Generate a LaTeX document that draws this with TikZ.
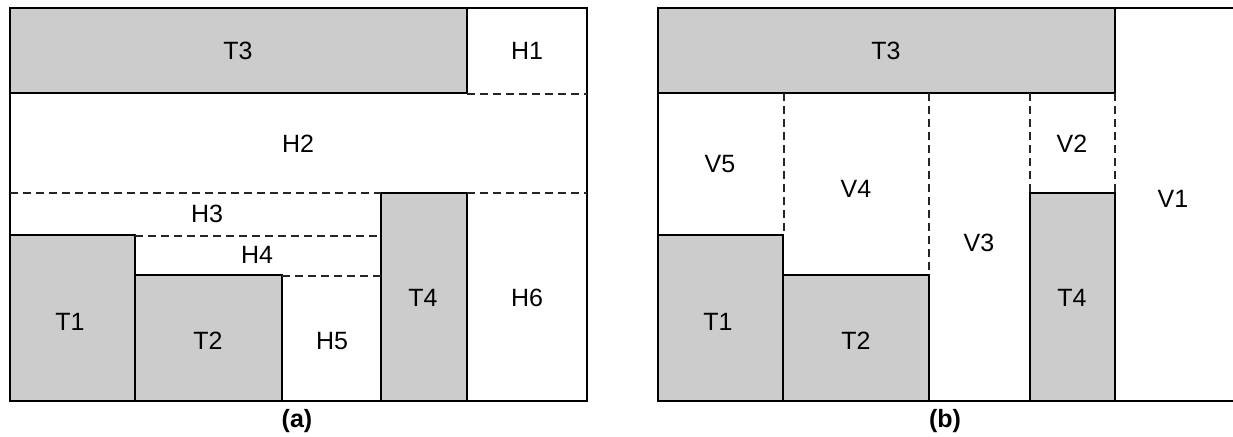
\documentclass[tikz,border=0pt]{standalone}
\usepackage{fontspec}
\setmainfont{Liberation Sans}
\definecolor{boxgray}{HTML}{CCCCCC}
\begin{document}
\begin{tikzpicture}[x=1pt,y=-1pt,
  tbox/.style={draw=black,fill=boxgray,line width=2.2pt},
  frame/.style={draw=black,line width=2.2pt},
  cutline/.style={draw=black!85,line width=2.2pt,dash pattern=on 8pt off 5pt},
  lbl/.style={font=\fontsize{25}{28}\selectfont,inner sep=0pt},
  captext/.style={font=\fontsize{25}{28}\selectfont\bfseries,inner sep=0pt}]
\useasboundingbox (0,0) rectangle (1233,436);
% ---------- panel (a) ----------
\draw[frame] (10,8) rectangle (587,401);
\draw[tbox] (10,8) rectangle (467,93);
\draw[tbox] (10,235) rectangle (135,401);
\draw[tbox] (135,275) rectangle (282,401);
\draw[tbox] (381,193) rectangle (467,401);
\draw[cutline] (467,94) -- (587,94);
\draw[cutline] (10,193) -- (381,193);
\draw[cutline] (467,193) -- (587,193);
\draw[cutline] (135,236) -- (381,236);
\draw[cutline] (282,276) -- (381,276);
\node[lbl] (aT3) at (238,51) {T3};
\node[lbl] (aH1) at (527,51) {H1};
\node[lbl] (aH2) at (298,144) {H2};
\node[lbl] (aH3) at (207,214) {H3};
\node[lbl] (aH4) at (257,255) {H4};
\node[lbl] (aT1) at (70,322) {T1};
\node[lbl] (aT2) at (208,341) {T2};
\node[lbl] (aH5) at (332,341) {H5};
\node[lbl] (aT4) at (423,298) {T4};
\node[lbl] (aH6) at (527,298) {H6};
\node[captext] (capa) at (297,421) {(a)};
% ---------- panel (b) ----------
\draw[frame] (658,8) -- (1233,8);
\draw[frame] (658,8) -- (658,401) -- (1233,401);
\draw[tbox] (658,8) rectangle (1115,93);
\draw[tbox] (658,235) rectangle (783,401);
\draw[tbox] (783,275) rectangle (929,401);
\draw[tbox] (1030,193) rectangle (1115,401);
\draw[cutline] (784,93) -- (784,235);
\draw[cutline] (929,93) -- (929,275);
\draw[cutline] (1030,93) -- (1030,193);
\draw[cutline] (1115,93) -- (1115,193);
\node[lbl] (bT3) at (886,51) {T3};
\node[lbl] (bV5) at (720,164) {V5};
\node[lbl] (bV4) at (856,189) {V4};
\node[lbl] (bV3) at (979,243) {V3};
\node[lbl] (bV2) at (1072,144) {V2};
\node[lbl] (bV1) at (1173,199) {V1};
\node[lbl] (bT1) at (718,322) {T1};
\node[lbl] (bT2) at (856,341) {T2};
\node[lbl] (bT4) at (1072,298) {T4};
\node[captext] (capb) at (945,421) {(b)};
\end{tikzpicture}
\end{document}
